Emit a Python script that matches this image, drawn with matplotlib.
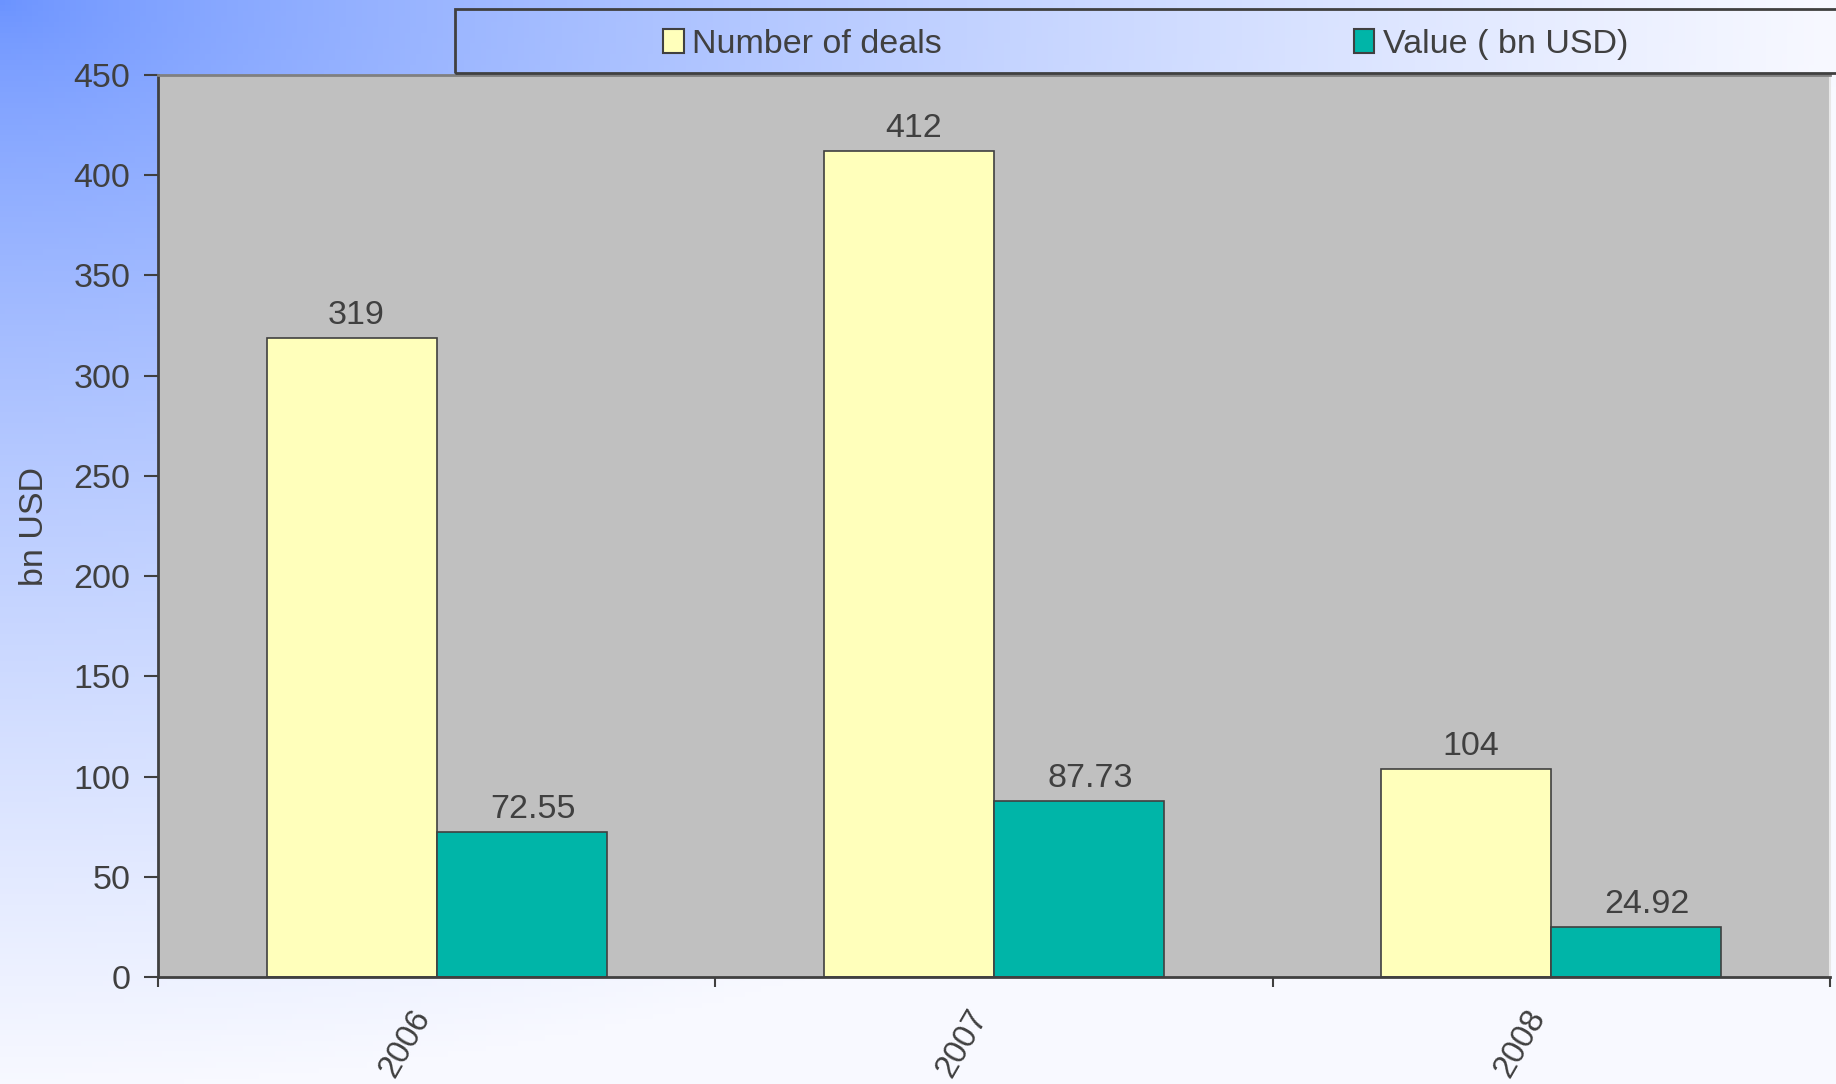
import numpy as np
import matplotlib
matplotlib.use("Agg")
import matplotlib.pyplot as plt
from matplotlib.patches import Patch, Rectangle
from matplotlib.colors import to_rgb

plt.rcParams["font.family"] = ["Liberation Sans", "DejaVu Sans"]

# Data
years = ["2006", "2007", "2008"]
deals = [319, 412, 104]
values = [72.55, 87.73, 24.92]
deal_labels = ["319", "412", "104"]
value_labels = ["72.55", "87.73", "24.92"]

text_color = "#404040"
yellow = "#FFFFBB"
teal = "#00B5A8"
fs = 24.5

fig = plt.figure(figsize=(18.36, 10.84), dpi=100)

# Background gradient (blue top-left fading to white)
bg = fig.add_axes([0, 0, 1, 1], zorder=-10)
h, w = 200, 340
yy, xx = np.mgrid[0:h, 0:w]
t = np.sqrt((xx / w) ** 2 + (yy / h) ** 2)
t = np.clip(t / 1.0, 0, 1) ** 0.75
c0 = np.array(to_rgb("#6b93ff"))
c1 = np.array(to_rgb("#f8f9ff"))
img = c0[None, None, :] * (1 - t[..., None]) + c1[None, None, :] * t[..., None]
bg.imshow(img, aspect="auto", extent=[0, 1, 0, 1], origin="upper")
bg.axis("off")

# Main axes
ax = fig.add_axes([0.0861, 0.0987, 0.9106, 0.8321])
ax.set_facecolor("#c0c0c0")

x = np.arange(len(years))
bw = 0.305
b1 = ax.bar(x - bw / 2, deals, bw, color=yellow, edgecolor=text_color, linewidth=1.2,
            label="Number of deals")
b2 = ax.bar(x + bw / 2, values, bw, color=teal, edgecolor=text_color, linewidth=1.2,
            label="Value ( bn USD)")

for rect, lab in zip(b1, deal_labels):
    ax.annotate(lab, (rect.get_x() + rect.get_width() / 2, rect.get_height()),
                xytext=(3, 5), textcoords="offset points", ha="center", va="bottom",
                fontsize=fs, color=text_color)
for rect, lab in zip(b2, value_labels):
    ax.annotate(lab, (rect.get_x() + rect.get_width() / 2, rect.get_height()),
                xytext=(8, 5), textcoords="offset points", ha="center", va="bottom",
                fontsize=fs, color=text_color)

ax.set_xlim(-0.5, len(years) - 0.5)
ax.set_ylim(0, 450)
ax.set_yticks(np.arange(0, 451, 50))
ax.tick_params(axis="y", direction="out", length=10, width=1.5, colors=text_color,
               labelsize=fs, pad=10)

# ticks at category boundaries, labels at centres
ax.set_xticks(np.arange(-0.5, len(years), 1.0))
ax.set_xticklabels([])
ax.tick_params(axis="x", which="major", direction="out", length=7, width=1.5,
               colors=text_color)
ax.set_xticks(x, minor=True)
ax.set_xticklabels(years, minor=True, rotation=60, ha="right", va="bottom",
                   rotation_mode="anchor", fontsize=23.5, color=text_color)
ax.tick_params(axis="x", which="minor", length=0, pad=31)

ax.set_ylabel("bn USD", fontsize=fs, color=text_color, labelpad=17)

for s in ["left", "bottom"]:
    ax.spines[s].set_color(text_color)
    ax.spines[s].set_linewidth(2)
ax.spines["top"].set_color("#808080")
ax.spines["top"].set_linewidth(2)
ax.spines["right"].set_color("#e8e8e8")
ax.spines["right"].set_linewidth(1.5)

# Legend box
box = Rectangle((0.248, 0.9327), 0.76, 0.059, transform=fig.transFigure,
                facecolor="none", edgecolor=text_color, linewidth=2, clip_on=False)
fig.patches.append(box)
handles = [Patch(facecolor=yellow, edgecolor=text_color, linewidth=1.5),
           Patch(facecolor=teal, edgecolor=text_color, linewidth=1.5)]
fig.legend(handles, ["Number of deals", "Value ( bn USD)"], ncol=2, frameon=False,
           loc="center left", bbox_to_anchor=(0.352, 0.959), fontsize=fs,
           labelcolor=text_color, handlelength=0.6, handleheight=0.7,
           handletextpad=0.25, columnspacing=12.1, borderpad=0)

fig.savefig("out.png", dpi=100)
